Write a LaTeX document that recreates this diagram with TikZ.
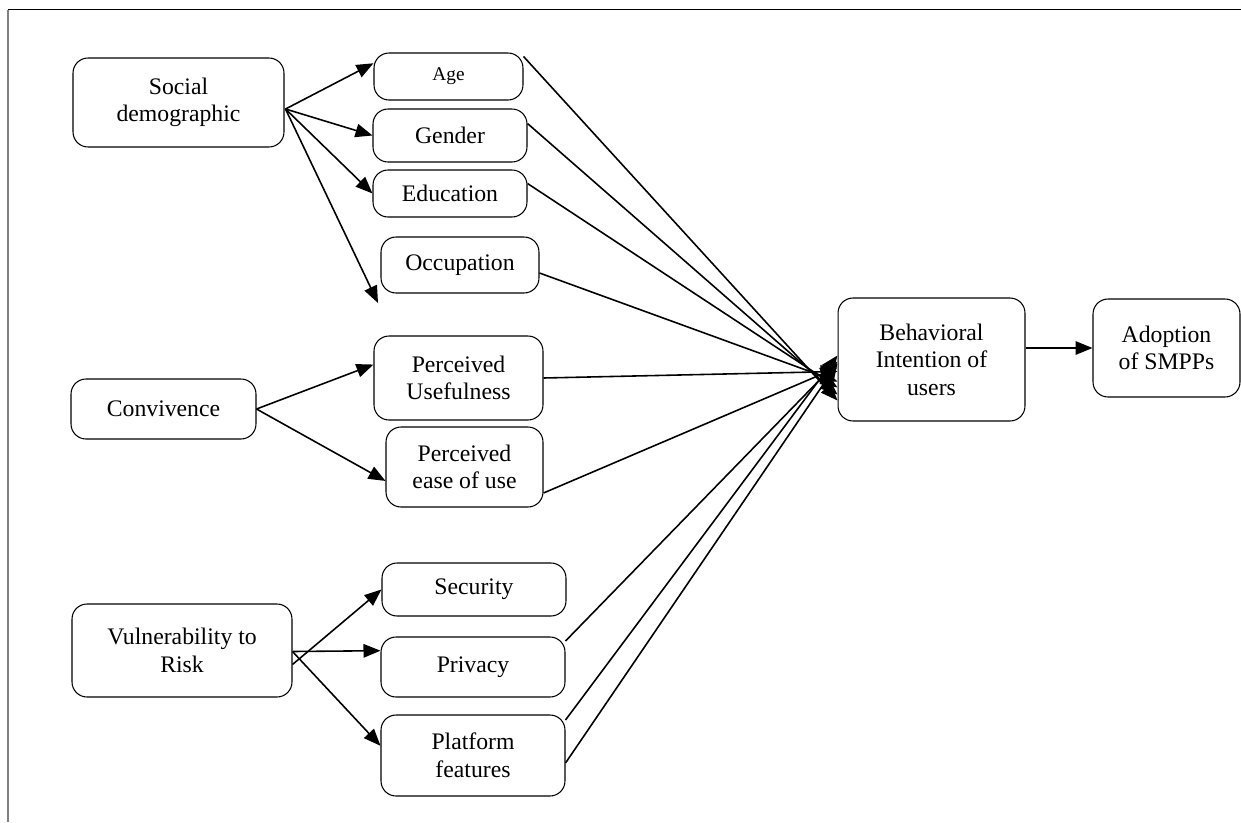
\documentclass[tikz,border=0pt]{standalone}
\usepackage{fontspec}
\setmainfont{Liberation Serif}
\usetikzlibrary{arrows.meta,calc}

\begin{document}
\begin{tikzpicture}[x=0.02cm,y=-0.02cm,
  factor/.style={rectangle,rounded corners=0.3cm,draw,line width=0.6pt,inner sep=0pt,align=center,
    font=\fontsize{13.5}{15.7}\selectfont}]

    \tikzstyle{small} = [font=\fontsize{11}{13}\selectfont]
    \tikzstyle{link} = [-{Triangle[length=0.34cm,width=0.27cm]},line width=0.9pt]

  \useasboundingbox (0,0) rectangle (1241,822);
  \draw[line width=0.8pt] (8,9.5) -- (1241,9.5);
  \draw[gray,line width=1.3pt] (8,9.5) -- (8,822);

  % left column
  \node[factor,minimum width=4.22cm,minimum height=1.78cm] (soc) at (178.5,102.5) {Social\\demographic};
  \node[factor,minimum width=3.70cm,minimum height=1.20cm] (conv) at (163.5,409) {Convivence};
  \node[factor,minimum width=4.40cm,minimum height=1.86cm] (vul) at (182,650.5) {Vulnerability to\\Risk};

  % middle column
  \node[factor,small,minimum width=2.98cm,minimum height=0.94cm] (age) at (448.5,76.5) {Age};
  \node[factor,minimum width=3.08cm,minimum height=1.06cm] (gender) at (450,135.5) {Gender};
  \node[factor,minimum width=3.08cm,minimum height=0.94cm] (edu) at (450,193.5) {Education};
  \node[factor,minimum width=3.16cm,minimum height=1.12cm] (occ) at (460,265) {Occupation};
  \node[factor,minimum width=3.38cm,minimum height=1.68cm] (pu) at (458.5,378) {Perceived\\Usefulness};
  \node[factor,minimum width=3.14cm,minimum height=1.60cm] (peu) at (464.5,467) {Perceived\\ease of use};
  \node[factor,minimum width=3.68cm,minimum height=1.06cm] (sec) at (474,589.5) {Security};
  \node[factor,minimum width=3.68cm,minimum height=1.20cm] (priv) at (473,667) {Privacy};
  \node[factor,minimum width=3.68cm,minimum height=1.62cm] (plat) at (473,755.5) {Platform\\features};

  % right
  \node[factor,minimum width=3.74cm,minimum height=2.46cm] (bi) at (931.5,359.5) {Behavioral\\Intention of\\users};
  \node[factor,minimum width=2.94cm,minimum height=1.96cm] (adopt) at (1166.5,348) {Adoption\\of SMPPs};

  \coordinate (socout) at ($(soc.east)+(1,6.5)$);
  \coordinate (occend) at (378,303);
  \coordinate (vulsec) at ($(vul.east)+(0,14)$);
  \coordinate (vulout) at ($(vul.east)+(0,1)$);

  \coordinate (ageout) at ($(age.north east)+(0,4)$);
  \coordinate (genderout) at ($(gender.east)+(0,-12)$);
  \coordinate (eduout) at ($(edu.east)+(0,-10)$);
  \coordinate (occout) at ($(occ.east)+(0,8)$);
  \coordinate (peuout) at ($(peu.east)+(0,26)$);
  \coordinate (privout) at ($(priv.east)+(0,-26)$);
  \coordinate (platout) at ($(plat.east)+(0,-35.5)$);
  \coordinate (platout2) at ($(plat.east)+(0,7.5)$);

  \path[link]
    (socout) edge (age.170)
    (socout) edge (gender.west)
    (socout) edge (edu.west)
    (socout) edge (occend)

    (conv.east) edge (pu.171)
    (conv.east) edge (peu.190)

    (vulsec) edge (sec.west)
    (vulout) edge (priv.170)
    (vulout) edge (plat.174)

    (ageout) edge ($(bi.west)+(0,41)$)
    (genderout) edge ($(bi.west)+(0,35)$)
    (eduout) edge ($(bi.west)+(0,28)$)
    (occout) edge ($(bi.west)+(0,22)$)
    (pu.east) edge ($(bi.west)+(0,12)$)
    (peuout) edge ($(bi.west)+(0,8)$)
    (privout) edge ($(bi.west)+(0,2)$)
    (platout) edge ($(bi.west)+(0,-4)$)
    (platout2) edge ($(bi.west)+(0,4)$)

    (bi.east |- adopt.west) edge (adopt.west)
    ;

\end{tikzpicture}
\end{document}
